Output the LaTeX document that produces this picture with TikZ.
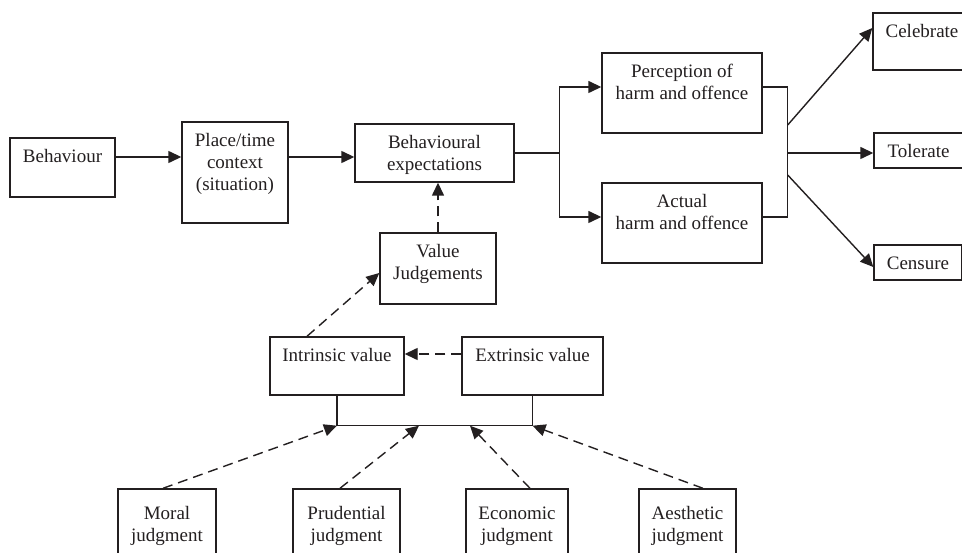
\documentclass[tikz,border=0pt]{standalone}
\usepackage{fontspec}
\setmainfont{Liberation Serif}
\usetikzlibrary{arrows.meta,calc}
\definecolor{ink}{HTML}{231F20}
\begin{document}
\begin{tikzpicture}[x=1pt,y=-1pt,
  box/.style={draw=ink,line width=1.4pt,inner sep=0pt},
  txt/.style={anchor=north,inner xsep=0pt,inner ysep=12pt,align=center,
    font=\fontsize{19}{22}\selectfont,text=ink},
  ln/.style={draw=ink,line width=1.4pt},
  arr/.style={ln,-{Triangle[length=13pt,width=12pt]}},
  darr/.style={arr,dash pattern=on 10pt off 6pt}]
\clip (0,0) rectangle (962,553);
\fill[white] (0,0) rectangle (962,553);
% top row
\node[box,minimum width=105pt,minimum height=59pt] (beh) at (62.5,167.5) {};
\node[txt] (behT) at (beh.north) {Behaviour};
\node[box,minimum width=106pt,minimum height=101pt] (place) at (235,172.5) {};
\node[txt] (placeT) at (place.north) {Place/time\\context\\(situation)};
\node[box,minimum width=159pt,minimum height=58pt] (be) at (434.5,153) {};
\node[txt] (beT) at (be.north) {Behavioural\\expectations};
\node[box,minimum width=116pt,minimum height=71pt] (vj) at (438,268.5) {};
\node[txt] (vjT) at (vj.north) {Value\\Judgements};
\node[box,minimum width=160pt,minimum height=80pt] (perc) at (682,93) {};
\node[txt] (percT) at (perc.north) {Perception of\\harm and offence};
\node[box,minimum width=160pt,minimum height=80pt] (act) at (682,223) {};
\node[txt] (actT) at (act.north) {Actual\\harm and offence};
\node[box,minimum width=98pt,minimum height=57pt] (cel) at (922,41.5) {};
\node[txt] (celT) at (cel.north) {Celebrate};
\node[box,minimum width=89pt,minimum height=35pt] (tol) at (918.5,150.5) {};
\node[txt] (tolT) at (tol.north) {Tolerate};
\node[box,minimum width=88pt,minimum height=35pt] (cen) at (918,262.5) {};
\node[txt] (cenT) at (cen.north) {Censure};
% values
\node[box,minimum width=134pt,minimum height=58pt] (intr) at (337,366) {};
\node[txt] (intrT) at (intr.north) {Intrinsic value};
\node[box,minimum width=141pt,minimum height=58pt] (extr) at (532.5,366) {};
\node[txt] (extrT) at (extr.north) {Extrinsic value};
% judgments
\node[box,minimum width=98pt,minimum height=81pt] (moral) at (167,529.5) {};
\node[txt,inner ysep=18pt] (moralT) at (moral.north) {Moral\\judgment};
\node[box,minimum width=107pt,minimum height=81pt] (prud) at (346.5,529.5) {};
\node[txt,inner ysep=18pt] (prudT) at (prud.north) {Prudential\\judgment};
\node[box,minimum width=102pt,minimum height=81pt] (econ) at (517,529.5) {};
\node[txt,inner ysep=18pt] (econT) at (econ.north) {Economic\\judgment};
\node[box,minimum width=97pt,minimum height=81pt] (aest) at (687.5,529.5) {};
\node[txt,inner ysep=18pt] (aestT) at (aest.north) {Aesthetic\\judgment};
% main flow
\coordinate (a1) at ([yshift=10.5pt]beh.east);
\draw[arr] (a1) -- (a1 -| place.west);
\coordinate (a2) at ([yshift=15.5pt]place.east);
\draw[arr] (a2) -- (a2 -| be.west);
\coordinate (j1) at ([xshift=45pt]be.east);
\draw[ln] (be.east) -- (j1);
\draw[arr] (j1) |- ([yshift=6pt]perc.west);
\draw[arr] (j1) |- ([yshift=6pt]act.west);
\coordinate (p1) at ([yshift=6pt]perc.east);
\coordinate (j2) at ([xshift=25pt]p1);
\coordinate (q1) at ([yshift=6pt]act.east);
\draw[ln] (p1) -- (j2) -- (j2 |- q1) -- (q1);
\coordinate (c1) at ($(j2)+(0,38)$);
\coordinate (c2) at ($(j2)+(0,66)$);
\coordinate (c3) at ($(j2)+(0,88)$);
\draw[arr] (c1) -- ([yshift=13.5pt]cel.west);
\draw[arr] (c2) -- (c2 -| tol.west);
\draw[arr] (c3) -- ([yshift=-4.5pt]cen.west);
% value judgements
\draw[darr] (vj.north) -- (vj.north |- be.south);
\draw[darr] ([xshift=-30pt]intr.north) -- ([yshift=-4.5pt]vj.west);
\coordinate (e1) at ([yshift=12pt]extr.west);
\draw[darr] (e1) -- (e1 -| intr.east);
\coordinate (bar) at ([yshift=-30pt]intr.south);
\coordinate (bar2) at (bar -| extr.south);
\draw[ln] (intr.south) -- (bar) -- (bar2) -- (extr.south);
\draw[darr] ([xshift=-4pt]moral.north) -- (bar);
\draw[darr] ([xshift=-6.5pt]prud.north) -- ($(bar)+(82,0)$);
\draw[darr] ([xshift=13pt]econ.north) -- ($(bar)+(133,0)$);
\draw[darr] ([xshift=15.5pt]aest.north) -- (bar2);
\end{tikzpicture}
\end{document}
